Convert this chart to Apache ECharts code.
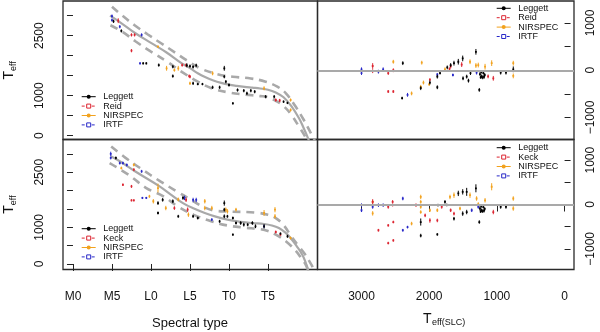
<!DOCTYPE html>
<html><head><meta charset="utf-8">
<script src="https://cdn.jsdelivr.net/npm/echarts@6/dist/echarts.min.js"></script>
<style>html,body{margin:0;padding:0;background:#fff}#c{width:600px;height:332px}</style>
</head><body><div id="c"></div>
<script>
// ---- tick labels ----
const spectralTicks = [0, 5, 10, 15, 20, 25];
const spectralLabels = ['M0', 'M5', 'L0', 'L5', 'T0', 'T5'];
const teffTicks = [0, 500, 1000, 1500, 2000, 2500, 3000];
const teffLabels = [0, 1000, 2500];
const slcTicks = [0, 1000, 2000, 3000];
const residTicks = [-1000, -500, 0, 500, 1000];
const residLabels = [-1000, 0, 1000];
const legendTop = ['Leggett', 'Reid', 'NIRSPEC', 'IRTF'];
const legendBottom = ['Leggett', 'Keck', 'NIRSPEC', 'IRTF'];

// ---- fit curves (spectral type, Teff) ----
const fitTopSolid = [[4.75,3000],[6,2840],[8,2560],[10,2320],[12,2080],[14,1800],[15,1690],[16,1560],[17,1460],[18,1380],[19,1320],[20,1275],[21,1245],[22,1220],[23,1200],[24,1180],[25,1150],[26,1080],[27,960],[28,740],[29,430],[29.6,180],[30,0],[30.4,-200]];
const fitTopUpper = [[5,3225],[6.4,2990],[7.9,2760],[9.6,2530],[11.3,2310],[13,2090],[14.5,1893],[16.3,1685],[18.5,1540],[20.5,1475],[22.8,1430],[24.7,1350],[26.2,1225],[27.3,1060],[28.5,740],[29.6,392],[30.4,100],[31.2,-200]];
const fitTopLower = [[4.8,2760],[6.4,2590],[8,2360],[10,2100],[12,1860],[14,1590],[16,1350],[18,1170],[20,1080],[22,1030],[24,990],[25,960],[26,870],[27,740],[28,520],[29,220],[29.7,0],[30,-150]];
const fitBotSolid = [[4.84,2935],[6,2800],[8,2520],[11.1,2117],[12.5,1900],[14.1,1660],[15.5,1510],[16.9,1390],[18.3,1290],[19.8,1208],[21.5,1150],[23,1115],[24.5,1090],[25.5,1050],[26.4,980],[27.2,860],[27.9,708],[28.7,480],[29.4,253],[29.8,60],[30.2,-200]];
const fitBotUpper = [[4.9,3200],[6.7,2900],[8.6,2615],[11.2,2253],[13.3,1980],[15,1770],[16.5,1580],[18,1460],[20,1430],[23.5,1400],[25,1340],[26,1250],[27,1060],[28,750],[29,470],[29.7,280],[30.6,-30],[31,-200]];
const fitBotLower = [[4.7,2750],[7.1,2435],[9.4,2070],[11.6,1845],[13.5,1560],[15.5,1340],[17.8,1160],[19.8,1050],[22,990],[24,950],[25,900],[26,800],[27.4,600],[28.6,350],[29.3,150],[29.8,0],[30.1,-150]];

// ---- measured points [x, y, error] ----
const tlLeggett = [[5.2,2860,40],[6.2,2620,40],[9.0,1810,30],[9.4,1810,30],[11.0,1765,40],[12.8,1725,40],[12.8,1490,40],[14.6,1760,50],[15.0,1740,40],[15.4,1720,40],[15.8,1760,40],[15.4,1310,40],[16.0,1290,30],[16.6,1290,30],[17.9,1210,40],[18.8,1210,40],[19.4,1685,60],[19.4,1475,40],[19.6,1350,40],[20.0,1267,40],[20.5,810,30],[21.1,1142,40],[21.9,1125,40],[22.3,1060,40],[22.8,1125,40],[23.3,1100,40],[24.7,975,40],[25.8,975,40],[27.0,850,30],[27.5,820,30]];
const tlReid = [[5.8,2875,60],[7.5,2520,40],[7.9,2520,40],[7.5,2125,40],[14.0,1765,40],[14.5,1765,40],[14.9,1490,40],[15.0,1475,40],[26.0,892,40],[26.5,880,40]];
const tlNirspec = [[10.9,2225,30],[12.0,1685,60],[13.5,1685,60],[15.0,1310,40],[17.9,1560,50],[24.5,1185,50],[27.9,892,40],[27.9,642,40],[13.0,1640,40]];
const tlIrtf = [[5.0,2990,40],[5.0,2890,40],[6.0,2725,40],[8.8,2520,40],[8.6,1810,30]];

const blLeggett = [[5.5,2890,40],[10.9,1660,50],[10.9,1390,40],[11.5,1750,50],[12.8,1710,50],[13.5,1300,40],[14.1,1800,50],[15.4,1300,40],[16.0,1253,40],[18.8,1163,40],[19.4,1660,70],[19.4,1480,50],[19.4,1300,50],[19.8,1300,40],[20.5,1253,40],[20.5,800,30],[20.9,1117,40],[21.5,1117,50],[21.9,1072,50],[22.4,1072,40],[23.0,1117,50],[23.4,1027,50],[24.5,1027,60],[26.6,830,30],[27.5,755,40]];
const blKeck = [[7.8,2570,40],[6.4,2160,30],[7.5,2115,40],[7.5,1735,30],[7.8,1735,30],[13.0,1525,50],[14.7,1480,60],[14.5,1750,60],[26.0,872,40],[26.6,800,30]];
const blNirspec = [[6.2,2615,40],[7.8,2700,40],[9.8,1845,40],[10.3,1710,60],[10.9,2070,120],[11.9,1525,60],[13.5,1760,50],[14.8,1345,60],[16.9,1710,60],[16.9,1525,60],[17.8,1525,60],[19.6,1480,60],[19.8,1435,60],[20.9,1480,50],[24.5,1390,80],[25.9,1480,70],[25.9,1300,60],[27.9,708,40]];
const blIrtf = [[4.84,3000,60],[4.84,2890,40],[6.0,2750,40],[6.4,2750,40],[6.9,2700,40],[8.8,2525,40],[8.9,1800,30],[9.4,1800,30],[14.3,1800,60],[15.4,1745,60],[15.8,1745,60],[17.8,1208,40],[24.5,1027,40]];

const trLeggett = [[2390,150,40],[2400,-590,30],[2125,-380,40],[1990,-260,40],[1880,-360,40],[1880,-135,40],[1840,-60,30],[1733,60,40],[1683,110,40],[1634,150,50],[1570,180,60],[1505,250,60],[1500,-170,40],[1446,-135,40],[1420,-220,40],[1390,-60,40],[1310,390,60],[1260,-415,40],[1250,-80,40],[1230,-130,40],[1210,-150,40],[1190,-140,40],[1180,-100,40],[1230,-40,30],[1200,-60,30],[1240,-150,30],[944,-50,40],[866,-50,40],[758,20,60]];
const trReid = [[2835,90,60],[2835,-20,40],[2605,-60,40],[2530,0,40],[2605,-450,30],[2530,-450,30],[1990,-200,30],[1683,80,40],[1520,120,50],[1053,-170,50],[1130,-130,40],[1700,30,30]];
const trNirspec = [[2530,180,40],[2110,160,40],[2260,-490,40],[2125,-350,40],[2085,-260,40],[1767,20,40],[1397,180,50],[1310,100,50],[1275,110,50],[1175,75,60],[1077,150,60],[758,150,50],[758,-120,50],[2000,-300,30]];
const trIrtf = [[3000,20,40],[3000,-60,40],[2750,-30,40],[2680,20,40],[2320,-520,40],[1880,-90,30],[1300,-50,40],[1650,-100,30]];

const brLeggett = [[2125,-395,80],[2125,-700,40],[1880,-675,30],[1870,-15,30],[1767,60,40],[1740,-10,30],[1634,-320,40],[1570,250,60],[1505,285,60],[1505,-205,50],[1446,285,90],[1446,-170,50],[1310,365,90],[1260,-395,40],[1250,-90,50],[1230,-130,40],[1210,-150,40],[1190,-140,40],[1180,-100,40],[1230,-40,30],[1200,-60,30],[1240,-160,30],[944,-55,40],[866,-55,40]];
const brKeck = [[2835,60,60],[2605,-55,40],[2540,60,40],[2540,-15,30],[2750,-580,30],[2605,-470,30],[2530,-395,30],[2605,-870,30],[2530,-810,30],[2195,-15,40],[2060,-245,40],[1990,-360,50],[1880,-360,40],[1815,-55,40],[1683,-130,40],[1634,-205,40],[1053,-170,50]];
const brNirspec = [[2835,-200,50],[2835,60,40],[2260,-430,40],[2125,170,50],[2125,60,40],[2125,-55,40],[2125,-170,40],[1990,-130,40],[1880,-130,40],[1693,170,50],[1634,210,60],[1545,-90,40],[1397,210,60],[1300,135,50],[1275,10,40],[1175,95,50],[1077,400,80],[758,135,50],[758,-90,50]];
const brIrtf = [[3000,-15,40],[3000,-130,40],[2835,-55,40],[2750,-15,40],[2680,-15,40],[2390,135,40],[2390,-580,30],[2320,-510,30],[1372,-130,40],[1275,-55,40]];

// ---- styling ----
const RED = '#dc2430', ORANGE = '#f2a21e', BLUE = '#2828c8', BLACK = '#000000';
const GREY = '#a9a9a9';
const FONT = '"Liberation Sans", Arial, sans-serif';

function errRender(color) {
  return function (params, api) {
    const x = api.value(0), y = api.value(1), e = api.value(2);
    const c = api.coord([x, y]);
    const t = api.coord([x, y + e]);
    const b = api.coord([x, y - e]);
    return {
      type: 'group', children: [
        { type: 'line', shape: { x1: c[0], y1: t[1], x2: c[0], y2: b[1] }, style: { stroke: color, lineWidth: 1 } },
        { type: 'rect', shape: { x: c[0] - 0.9, y: c[1] - 0.9, width: 1.8, height: 1.8 }, style: { fill: color } }
      ]
    };
  };
}
function pts(data, color, gi) {
  return { type: 'custom', xAxisIndex: gi, yAxisIndex: gi, data: data, dimensions: ['x', 'y', 'e'],
    encode: { x: 0, y: 1 }, renderItem: errRender(color), clip: true, silent: true, z: 3 };
}
function curve(data, gi, dashed) {
  return { type: 'line', xAxisIndex: gi, yAxisIndex: gi, data: data, smooth: 0.4, showSymbol: false, symbol: 'none',
    clip: true, silent: true, z: 2,
    lineStyle: { color: GREY, width: dashed ? 2.6 : 2.2, type: dashed ? [8, 6] : 'solid' } };
}
function zeroLine(gi) {
  return { type: 'line', xAxisIndex: gi, yAxisIndex: gi, data: [], silent: true,
    markLine: { symbol: 'none', silent: true, label: { show: false }, animation: false,
      lineStyle: { color: GREY, width: 2.2, type: 'solid' }, data: [{ yAxis: 0 }] } };
}

const legendStyles = [
  { color: BLACK, dash: null, sym: 'circle' },
  { color: RED, dash: [3, 2], sym: 'square' },
  { color: ORANGE, dash: null, sym: 'circle' },
  { color: BLUE, dash: [3, 2], sym: 'square' }
];
function legend(x0, y0, labels) {
  const els = [];
  labels.forEach(function (lab, i) {
    const s = legendStyles[i];
    const y = y0 + i * 9.4;
    els.push({ type: 'line', shape: { x1: x0, y1: y, x2: x0 + 14, y2: y },
      style: { stroke: s.color, lineWidth: 1, lineDash: s.dash } });
    if (s.sym === 'circle') {
      els.push({ type: 'circle', shape: { cx: x0 + 7, cy: y, r: 2 }, style: { fill: s.color } });
    } else {
      els.push({ type: 'rect', shape: { x: x0 + 5, y: y - 2, width: 4, height: 4 },
        style: { fill: '#fff', stroke: s.color, lineWidth: 1 } });
    }
    els.push({ type: 'text', style: { text: lab, x: x0 + 21.5, y: y, font: '9px ' + FONT, fill: '#111',
      align: 'left', verticalAlign: 'middle' } });
  });
  return els;
}

const grids = [
  { left: 63, top: 1, width: 254.5, height: 138.5 },
  { left: 317.5, top: 1, width: 256.5, height: 138.5 },
  { left: 63, top: 139.5, width: 254.5, height: 130 },
  { left: 317.5, top: 139.5, width: 256.5, height: 130 }
].map(function (g) { return Object.assign({ show: true, borderColor: '#2a2a2a', borderWidth: 1.3, backgroundColor: 'transparent', containLabel: false }, g); });

const lblStyle = { color: '#111', fontSize: 12, fontFamily: FONT };
const plain = function (v) { return String(v).replace('-', '\u2212'); };
function noAxis(gi, extra) {
  return Object.assign({ type: 'value', gridIndex: gi, axisLine: { show: false }, axisTick: { show: false },
    axisLabel: { show: false }, splitLine: { show: false } }, extra);
}
const xAxes = [
  noAxis(0, { min: -1.28, max: 31.35 }),
  noAxis(1, { min: -139, max: 3650, inverse: true }),
  noAxis(2, { min: -1.28, max: 31.35,
    axisTick: { show: true, length: 7, customValues: spectralTicks, lineStyle: { color: '#222' } },
    axisLabel: Object.assign({ show: true, margin: 21, customValues: spectralTicks,
      formatter: function (v) { return spectralLabels[spectralTicks.indexOf(v)]; } }, lblStyle) }),
  noAxis(3, { min: -139, max: 3650, inverse: true,
    axisTick: { show: true, length: 7, customValues: slcTicks, lineStyle: { color: '#222' } },
    axisLabel: Object.assign({ show: true, margin: 21, customValues: slcTicks, formatter: plain }, lblStyle) })
];
const teffName = {
  name: '{a|T}{b|eff}', nameLocation: 'middle', nameRotate: 90, nameGap: 45,
  nameTextStyle: { rich: {
    a: { fontSize: 14, lineHeight: 18, fontFamily: FONT, color: '#111' },
    b: { fontSize: 9, lineHeight: 9, verticalAlign: 'bottom', fontFamily: FONT, color: '#111' }
  } }
};
function leftY(gi, mn, mx) {
  return noAxis(gi, Object.assign({ min: mn, max: mx,
    axisTick: { show: true, length: 6, customValues: teffTicks, lineStyle: { color: '#222' } },
    axisLabel: Object.assign({ show: true, rotate: 90, margin: 17, customValues: teffLabels, formatter: plain,
      verticalAlign: 'bottom', align: 'center' }, lblStyle) }, teffName));
}
function rightY(gi) {
  return noAxis(gi, { min: -1465, max: 1465, position: 'right',
    axisTick: { show: true, length: 6, customValues: residTicks, lineStyle: { color: '#222' } },
    axisLabel: Object.assign({ show: true, rotate: 90, margin: 11, customValues: residLabels, verticalAlign: 'top', align: 'center',
      formatter: plain }, lblStyle) });
}
const yAxes = [leftY(0, -95, 3367), rightY(1), leftY(2, -150, 3393), rightY(3)];

const series = [
  curve(fitTopSolid, 0, false), curve(fitTopUpper, 0, true), curve(fitTopLower, 0, true),
  curve(fitBotSolid, 2, false), curve(fitBotUpper, 2, true), curve(fitBotLower, 2, true),
  zeroLine(1), zeroLine(3),
  pts(tlNirspec, ORANGE, 0), pts(tlReid, RED, 0), pts(tlIrtf, BLUE, 0), pts(tlLeggett, BLACK, 0),
  pts(trNirspec, ORANGE, 1), pts(trReid, RED, 1), pts(trIrtf, BLUE, 1), pts(trLeggett, BLACK, 1),
  pts(blNirspec, ORANGE, 2), pts(blKeck, RED, 2), pts(blIrtf, BLUE, 2), pts(blLeggett, BLACK, 2),
  pts(brNirspec, ORANGE, 3), pts(brKeck, RED, 3), pts(brIrtf, BLUE, 3), pts(brLeggett, BLACK, 3)
];

const graphics = [].concat(
  legend(81.7, 96.7, legendTop),
  legend(496.7, 8.3, legendTop),
  legend(81.7, 228.7, legendBottom),
  legend(496.7, 147.7, legendBottom),
  [{ type: 'text', style: { text: 'Spectral type', x: 190, y: 323, font: '13px ' + FONT, fill: '#111', align: 'center', verticalAlign: 'middle' } },
   { type: 'text', style: { text: 'T', x: 423, y: 319, font: '14px ' + FONT, fill: '#111', align: 'left', verticalAlign: 'middle' } },
   { type: 'text', style: { text: 'eff(SLC)', x: 432, y: 323, font: '9px ' + FONT, fill: '#111', align: 'left', verticalAlign: 'middle' } }]
);

const chart = echarts.init(document.getElementById('c'), null, { renderer: 'canvas' });
chart.setOption({
  animation: false,
  backgroundColor: '#fff',
  grid: grids, xAxis: xAxes, yAxis: yAxes, series: series,
  graphic: graphics
});
</script></body></html>
